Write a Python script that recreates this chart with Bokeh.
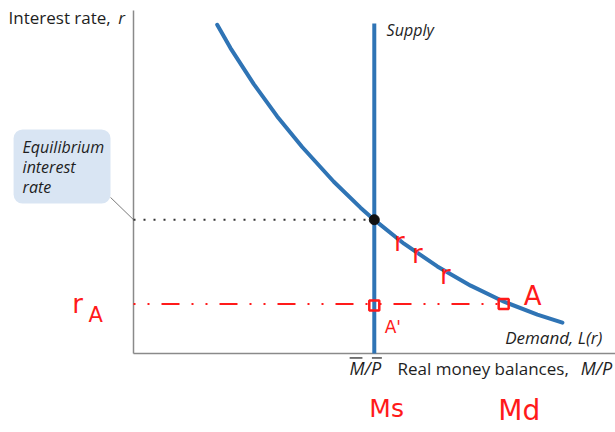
from bokeh.plotting import figure
from bokeh.models import Range1d, BoxAnnotation
from bokeh.core.properties import value
from bokeh.embed import file_html
from bokeh.resources import INLINE

# ---- data ----
demand_x = [1.766, 2.046, 2.538, 3.032, 3.559, 4.226, 4.789, 5.075, 5.707,
            6.411, 7.114, 7.816, 8.521, 9.049]
demand_r = [9.583, 8.904, 7.851, 6.910, 6.020, 5.006, 4.251, 3.901, 3.201,
            2.539, 1.977, 1.510, 1.131, 0.898]
supply_x = 5.08          # M/P fixed supply
supply_top = 9.62
eq_r = 3.90              # equilibrium interest rate
r_A = 1.44               # hand-drawn lower rate r_A
md_A = 7.81              # money demand at r_A (point A)
r_marks_x = [5.61, 5.99, 6.58]
r_marks_r = [3.24, 2.89, 2.30]

BLUE = "#2f74b5"
RED = "#ff1a1a"
INK = "#1e1e1e"
FONT = value("Open Sans")
HAND = value("DejaVu Sans")

p = figure(width=615, height=432, output_backend="svg", toolbar_location=None,
           x_range=Range1d(-2.806, 10.169), y_range=Range1d(-2.303, 10.29),
           x_axis_type=None, y_axis_type=None, min_border=0)
p.grid.visible = False
p.outline_line_color = None

# axes
p.line([0, 0], [0, 10.0], line_color="#8a8a8a", line_width=1.5)
p.line([0, 10.169], [0, 0], line_color="#8a8a8a", line_width=1.5)

# callout box
box = BoxAnnotation(left=-2.53, right=-0.485, top=6.53, bottom=4.37,
                    fill_color="#d9e5f3", fill_alpha=1.0, line_color=None,
                    border_radius=9, level="underlay")
p.add_layout(box)
p.line([-0.485, 0], [4.55, eq_r], line_color="#7a7a7a", line_width=1)
p.text(x=[-2.34] * 3, y=[6.02, 5.45, 4.85],
       text=["Equilibrium", "interest", "rate"],
       text_font=FONT, text_font_style="italic", text_font_size="16px",
       text_color=INK, text_baseline="middle", text_align="left")

# dotted equilibrium line
p.line([0, supply_x], [eq_r, eq_r], line_color="#333333", line_width=2,
       line_dash="2 8")

# supply & demand
p.line([supply_x, supply_x], [0, supply_top], line_color=BLUE, line_width=4)
p.line(demand_x, demand_r, line_color=BLUE, line_width=4, line_cap="round",
       line_join="round")
p.scatter([supply_x], [eq_r], size=10, color="#111111")

# labels
p.text(x=[-2.637], y=[9.80], text=["Interest rate,"], text_font=FONT,
       text_font_size="17px", text_color=INK, text_baseline="middle")
p.text(x=[-0.32], y=[9.80], text=["r"], text_font=FONT, text_font_style="italic",
       text_font_size="17px", text_color=INK, text_baseline="middle")
p.text(x=[5.34], y=[9.42], text=["Supply"], text_font=FONT,
       text_font_style="italic", text_font_size="16px", text_color=INK,
       text_baseline="middle")
p.text(x=[9.89], y=[0.47], text=["Demand, L(r)"], text_font=FONT,
       text_font_style="italic", text_font_size="17px", text_color=INK,
       text_baseline="middle", text_align="right")
p.text(x=[4.89], y=[-0.43], text=["M/P"], text_font=FONT,
       text_font_style="italic", text_font_size="18px", text_color=INK,
       text_baseline="middle", text_align="center")
# overbars of M and P
p.segment(x0=[4.56, 5.03], y0=[-0.13, -0.13], x1=[4.83, 5.24], y1=[-0.13, -0.13],
          line_color=INK, line_width=1.2)
p.text(x=[5.57], y=[-0.43], text=["Real money balances,"], text_font=FONT,
       text_font_size="17px", text_color=INK, text_baseline="middle")
p.text(x=[10.10], y=[-0.43], text=["M/P"], text_font=FONT,
       text_font_style="italic", text_font_size="18px", text_color=INK,
       text_baseline="middle", text_align="right")

# hand-drawn red annotations
p.line([0, md_A], [r_A, r_A], line_color=RED, line_width=2,
       line_dash="2 12 2 12 18 12")
p.scatter([supply_x, md_A], [r_A - 0.04, r_A], marker="square", size=10,
          fill_color=None, line_color=RED, line_width=2.5)
p.text(x=r_marks_x, y=r_marks_r, text=["r", "r", "r"], text_font=HAND,
       text_font_size="26px", text_color=RED, text_baseline="middle",
       text_align="center")
p.text(x=[-1.18], y=[1.45], text=["r"], text_font=HAND,
       text_font_size="26px", text_color=RED, text_baseline="middle",
       text_align="center")
p.text(x=[-0.80], y=[1.12], text=["A"], text_font=HAND,
       text_font_size="21px", text_color=RED, text_baseline="middle",
       text_align="center")
p.text(x=[8.42], y=[1.69], text=["A"], text_font=HAND,
       text_font_size="26px", text_color=RED, text_baseline="middle",
       text_align="center")
p.text(x=[5.30], y=[0.76], text=["A'"], text_font=HAND,
       text_font_size="17px", text_color=RED, text_baseline="middle",
       text_align="left")
p.text(x=[5.34], y=[-1.60], text=["Ms"], text_font=HAND,
       text_font_size="25px", text_color=RED, text_baseline="middle",
       text_align="center")
p.text(x=[8.14], y=[-1.66], text=["Md"], text_font=HAND,
       text_font_size="28px", text_color=RED, text_baseline="middle",
       text_align="center")

open("out.html", "w").write(file_html(p, INLINE))
